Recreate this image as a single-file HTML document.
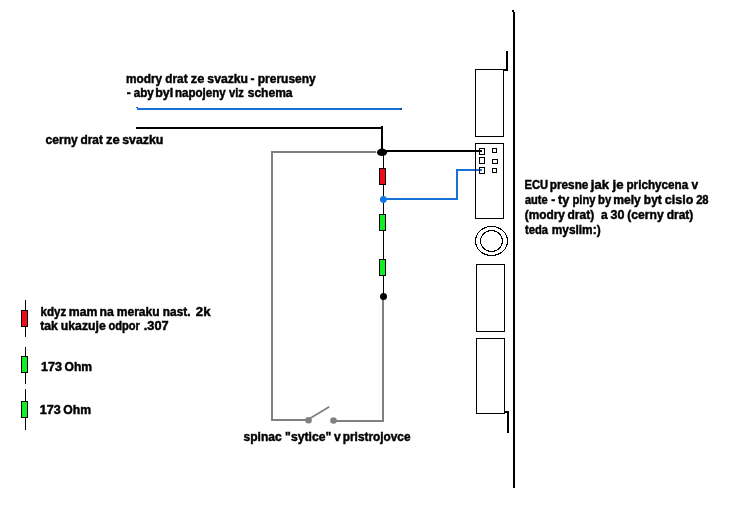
<!DOCTYPE html>
<html>
<head>
<meta charset="utf-8">
<title>schema</title>
<style>
html,body{margin:0;padding:0;background:#fff;}
body{width:751px;height:508px;overflow:hidden;}
svg{display:block;will-change:transform;}
text{font-family:"Liberation Sans",sans-serif;font-weight:bold;font-size:12px;fill:#000;stroke:#000;stroke-width:0.45px;}
.k{fill:#000;}
.g{fill:#808080;}
.b{fill:#1672da;}
</style>
</head>
<body>
<svg width="751" height="508" viewBox="0 0 751 508">
<rect x="0" y="0" width="751" height="508" fill="#fff"/>

<g shape-rendering="crispEdges">
<!-- top blue wire -->
<rect class="b" x="137" y="108" width="265" height="2"/>
<rect x="136" y="107" width="2" height="1" fill="#1c5cae"/>
<rect x="400" y="108" width="2" height="2" fill="#1c4f9a"/>
<!-- top black wire -->
<rect class="k" x="136" y="127" width="247" height="2"/>
<rect class="k" x="381" y="126" width="2" height="26"/>
<!-- black wire to ECU pin -->
<rect class="k" x="383" y="150" width="99" height="2"/>

<!-- gray loop -->
<rect class="g" x="271" y="151" width="105" height="2"/>
<rect class="g" x="271" y="151" width="2" height="270"/>
<rect class="g" x="271" y="419" width="37" height="2"/>
<rect class="g" x="334" y="420" width="50" height="2"/>
<rect class="g" x="382" y="299" width="2" height="123"/>

<!-- resistor chain vertical thin line -->
<rect class="k" x="383" y="155" width="1" height="139"/>

<!-- blue wire to ECU pin -->
<rect class="b" x="384" y="198" width="74" height="2"/>
<rect class="b" x="456" y="169" width="2" height="31"/>
<rect class="b" x="456" y="169" width="26" height="2"/>

<!-- resistors on chain -->
<rect x="379.5" y="168.5" width="6" height="16" fill="#ee0c18" stroke="#000" stroke-width="1"/>
<rect x="379.5" y="214.5" width="6" height="16" fill="#12ee24" stroke="#000" stroke-width="1"/>
<rect x="379.5" y="259.5" width="6" height="16" fill="#12ee24" stroke="#000" stroke-width="1"/>

<!-- ECU big line -->
<rect class="k" x="513" y="12" width="2" height="476"/>
<rect class="k" x="512" y="10" width="2" height="2"/>

<!-- top bracket -->
<rect class="k" x="506" y="51" width="2" height="20"/>
<rect class="k" x="503" y="69" width="5" height="2"/>
<!-- bottom bracket -->
<rect class="k" x="507" y="411" width="2" height="22"/>
<rect class="k" x="504" y="411" width="5" height="2"/>

<!-- connectors -->
<rect x="475.5" y="69.5" width="28" height="67" fill="none" stroke="#000" stroke-width="1"/>
<rect x="475.5" y="143.5" width="28" height="75" fill="none" stroke="#000" stroke-width="1"/>
<rect x="476.5" y="264.5" width="28" height="67" fill="none" stroke="#000" stroke-width="1"/>
<rect x="476.5" y="338.5" width="28" height="75" fill="none" stroke="#000" stroke-width="1"/>

<!-- pins -->
<rect x="479.5" y="148.5" width="5" height="6" fill="none" stroke="#000" stroke-width="1"/>
<rect x="479.5" y="157.5" width="5" height="6" fill="none" stroke="#000" stroke-width="1"/>
<rect x="479.5" y="167.5" width="5" height="6" fill="none" stroke="#000" stroke-width="1"/>
<rect x="492.5" y="148.5" width="4" height="4" fill="none" stroke="#000" stroke-width="1"/>
<rect x="492.5" y="159.5" width="5" height="4" fill="none" stroke="#000" stroke-width="1"/>
<rect x="492.5" y="168.5" width="4" height="4" fill="none" stroke="#000" stroke-width="1"/>

<!-- legend resistors -->
<rect class="k" x="25" y="300" width="1" height="37"/>
<rect x="21.5" y="310.5" width="6" height="16" fill="#ee0c18" stroke="#000" stroke-width="1"/>
<rect class="k" x="25" y="347" width="1" height="37"/>
<rect x="21.5" y="356.5" width="6" height="16" fill="#12ee24" stroke="#000" stroke-width="1"/>
<rect class="k" x="25" y="389" width="1" height="41"/>
<rect x="21.5" y="401.5" width="6" height="16" fill="#12ee24" stroke="#000" stroke-width="1"/>
</g>

<!-- junction dots -->
<ellipse cx="382" cy="152.3" rx="5.1" ry="3.7" fill="#000"/>
<circle cx="383.4" cy="199.5" r="3.4" fill="#1278e2"/>
<circle cx="383.5" cy="296.5" r="3.5" fill="#000"/>
<circle cx="308.5" cy="420.3" r="3.3" fill="#808080"/>
<circle cx="333.5" cy="420.5" r="3.3" fill="#808080"/>
<!-- switch arm -->
<line x1="309" y1="419" x2="329.3" y2="406.7" stroke="#808080" stroke-width="1.8"/>

<!-- round thing -->
<ellipse cx="491.5" cy="241" rx="16" ry="14.5" fill="none" stroke="#000" stroke-width="1" shape-rendering="crispEdges"/>
<ellipse cx="491.5" cy="241" rx="11" ry="10.5" fill="none" stroke="#000" stroke-width="1" shape-rendering="crispEdges"/>

<!-- texts -->
<filter id="noLcd" x="0" y="0" width="751" height="508" filterUnits="userSpaceOnUse"><feOffset dx="0" dy="0"/></filter>
<g filter="url(#noLcd)">
<text x="125.96" y="82.6" textLength="36.23" lengthAdjust="spacingAndGlyphs">modry</text>
<text x="165.31" y="82.6" textLength="22.26" lengthAdjust="spacingAndGlyphs">drat</text>
<text x="190.87" y="82.6" textLength="13.50" lengthAdjust="spacingAndGlyphs">ze</text>
<text x="207.39" y="82.6" textLength="40.70" lengthAdjust="spacingAndGlyphs">svazku</text>
<text x="250.50" y="82.6" textLength="4.00" lengthAdjust="spacingAndGlyphs">-</text>
<text x="257.75" y="82.6" textLength="57.98" lengthAdjust="spacingAndGlyphs">preruseny</text>
<text x="126.70" y="97.3" textLength="4.00" lengthAdjust="spacingAndGlyphs">-</text>
<text x="133.66" y="97.3" textLength="20.13" lengthAdjust="spacingAndGlyphs">aby</text>
<text x="155.22" y="97.3" textLength="17.95" lengthAdjust="spacingAndGlyphs">byl</text>
<text x="174.88" y="97.3" textLength="50.80" lengthAdjust="spacingAndGlyphs">napojeny</text>
<text x="229.00" y="97.3" textLength="14.88" lengthAdjust="spacingAndGlyphs">viz</text>
<text x="247.70" y="97.3" textLength="44.85" lengthAdjust="spacingAndGlyphs">schema</text>
<text x="45.60" y="143.9" textLength="32.13" lengthAdjust="spacingAndGlyphs">cerny</text>
<text x="80.51" y="143.9" textLength="22.36" lengthAdjust="spacingAndGlyphs">drat</text>
<text x="106.06" y="143.9" textLength="13.71" lengthAdjust="spacingAndGlyphs">ze</text>
<text x="122.19" y="143.9" textLength="41.22" lengthAdjust="spacingAndGlyphs">svazku</text>
<text x="524.50" y="189.3" textLength="23.58" lengthAdjust="spacingAndGlyphs">ECU</text>
<text x="549.87" y="189.3" textLength="38.48" lengthAdjust="spacingAndGlyphs">presne</text>
<text x="590.87" y="189.3" textLength="18.13" lengthAdjust="spacingAndGlyphs">jak</text>
<text x="612.48" y="189.3" textLength="11.02" lengthAdjust="spacingAndGlyphs">je</text>
<text x="626.47" y="189.3" textLength="61.71" lengthAdjust="spacingAndGlyphs">prichycena</text>
<text x="691.40" y="189.3" textLength="6.69" lengthAdjust="spacingAndGlyphs">v</text>
<text x="524.97" y="203.8" textLength="22.73" lengthAdjust="spacingAndGlyphs">aute</text>
<text x="551.20" y="203.8" textLength="4.00" lengthAdjust="spacingAndGlyphs">-</text>
<text x="558.13" y="203.8" textLength="11.35" lengthAdjust="spacingAndGlyphs">ty</text>
<text x="572.50" y="203.8" textLength="22.96" lengthAdjust="spacingAndGlyphs">piny</text>
<text x="598.00" y="203.8" textLength="13.15" lengthAdjust="spacingAndGlyphs">by</text>
<text x="613.24" y="203.8" textLength="27.57" lengthAdjust="spacingAndGlyphs">mely</text>
<text x="643.85" y="203.8" textLength="17.89" lengthAdjust="spacingAndGlyphs">byt</text>
<text x="664.88" y="203.8" textLength="28.45" lengthAdjust="spacingAndGlyphs">cislo</text>
<text x="696.13" y="203.8" textLength="12.50" lengthAdjust="spacingAndGlyphs">28</text>
<text x="524.71" y="218.9" textLength="40.16" lengthAdjust="spacingAndGlyphs">(modry</text>
<text x="567.50" y="218.9" textLength="26.67" lengthAdjust="spacingAndGlyphs">drat)</text>
<text x="601.05" y="218.9" textLength="6.69" lengthAdjust="spacingAndGlyphs">a</text>
<text x="610.64" y="218.9" textLength="13.89" lengthAdjust="spacingAndGlyphs">30</text>
<text x="627.30" y="218.9" textLength="36.34" lengthAdjust="spacingAndGlyphs">(cerny</text>
<text x="666.70" y="218.9" textLength="26.67" lengthAdjust="spacingAndGlyphs">drat)</text>
<text x="524.97" y="233.6" textLength="22.97" lengthAdjust="spacingAndGlyphs">teda</text>
<text x="551.76" y="233.6" textLength="48.85" lengthAdjust="spacingAndGlyphs">myslim:)</text>
<text x="40.48" y="316.2" textLength="25.75" lengthAdjust="spacingAndGlyphs">kdyz</text>
<text x="68.73" y="316.2" textLength="28.65" lengthAdjust="spacingAndGlyphs">mam</text>
<text x="99.54" y="316.2" textLength="14.28" lengthAdjust="spacingAndGlyphs">na</text>
<text x="116.75" y="316.2" textLength="42.86" lengthAdjust="spacingAndGlyphs">meraku</text>
<text x="162.86" y="316.2" textLength="27.59" lengthAdjust="spacingAndGlyphs">nast.</text>
<text x="195.85" y="316.2" textLength="14.67" lengthAdjust="spacingAndGlyphs">2k</text>
<text x="40.15" y="330.3" textLength="17.65" lengthAdjust="spacingAndGlyphs">tak</text>
<text x="60.84" y="330.3" textLength="44.89" lengthAdjust="spacingAndGlyphs">ukazuje</text>
<text x="108.44" y="330.3" textLength="31.49" lengthAdjust="spacingAndGlyphs">odpor</text>
<text x="143.80" y="330.3" textLength="24.85" lengthAdjust="spacingAndGlyphs">.307</text>
<text x="40.91" y="370.8" textLength="21.05" lengthAdjust="spacingAndGlyphs">173</text>
<text x="64.50" y="370.8" textLength="27.55" lengthAdjust="spacingAndGlyphs">Ohm</text>
<text x="39.81" y="413.8" textLength="21.05" lengthAdjust="spacingAndGlyphs">173</text>
<text x="63.39" y="413.8" textLength="27.76" lengthAdjust="spacingAndGlyphs">Ohm</text>
<text x="243.50" y="441.3" textLength="38.12" lengthAdjust="spacingAndGlyphs">spinac</text>
<text x="285.14" y="441.3" textLength="46.08" lengthAdjust="spacingAndGlyphs">&quot;sytice&quot;</text>
<text x="333.90" y="441.3" textLength="6.69" lengthAdjust="spacingAndGlyphs">v</text>
<text x="342.76" y="441.3" textLength="67.79" lengthAdjust="spacingAndGlyphs">pristrojovce</text>
</g>
</svg>
</body>
</html>
